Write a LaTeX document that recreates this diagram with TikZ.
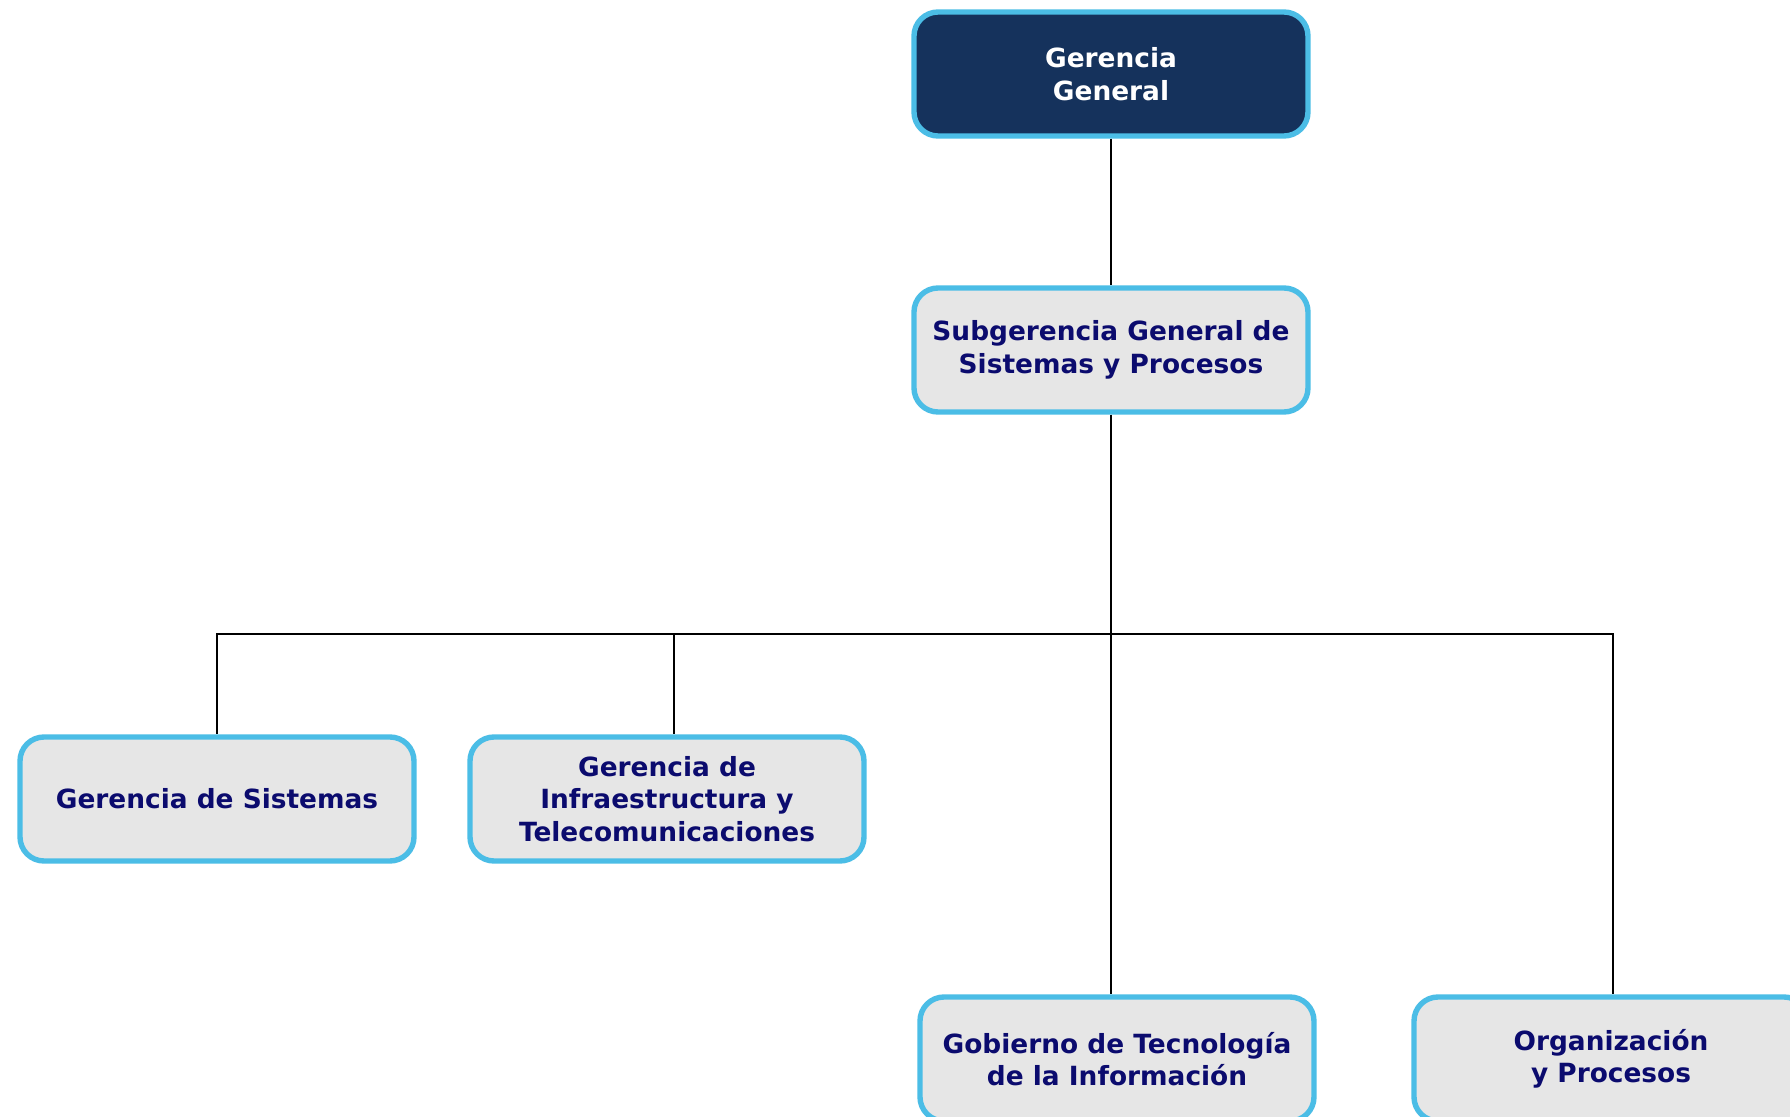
\documentclass[tikz,border=0pt]{standalone}
\usepackage{fontspec}
\setmainfont{DejaVu Sans}
\usepackage{tikz}
\definecolor{cajaborde}{HTML}{4BBDE6}
\definecolor{cajafondo}{HTML}{E6E6E6}
\definecolor{cajatexto}{HTML}{0B0B6E}
\definecolor{gerfondo}{HTML}{15325C}

\begin{document}
\begin{tikzpicture}[x=0.5pt,y=-0.5pt,
    caja/.style={draw=cajaborde, line width=2.7pt, fill=cajafondo, rounded corners=12pt,
        minimum width=197pt, minimum height=62pt, align=center, text=cajatexto,
        font=\bfseries\fontsize{13.2}{16.2}\selectfont},
    linea/.style={black, line width=0.9pt}]
\useasboundingbox (0,0) rectangle (1790,1117);
\clip (0,0) rectangle (1790,1117);
\fill[white] (0,0) rectangle (1790,1117);

\node[caja, fill=gerfondo, text=white] (gg) at (1111,74) {Gerencia\\General};
\node[caja] (sub) at (1111,350) {Subgerencia General de\\Sistemas y Procesos};

\node[caja] (sis) at (217,799) {Gerencia de Sistemas};
\node[caja] (inf) at (667,799) {Gerencia de\\Infraestructura y\\Telecomunicaciones};
\node[caja] (gob) at (1117,1059) {Gobierno de Tecnología\\de la Información};
\node[caja] (org) at (1611,1059) {Organización\\y Procesos};

\coordinate (bus) at (1111,634);

\draw[linea] (gg.south) -- (sub.north);
\draw[linea] (sub.south) -- (bus);
\draw[linea] (bus) -| (sis.north);
\draw[linea] (bus) -| ([xshift=3.5pt]inf.north);
\draw[linea] (bus) -| ([xshift=1pt]org.north);
\draw[linea] (bus) -- (bus |- gob.north);

\end{tikzpicture}
\end{document}
